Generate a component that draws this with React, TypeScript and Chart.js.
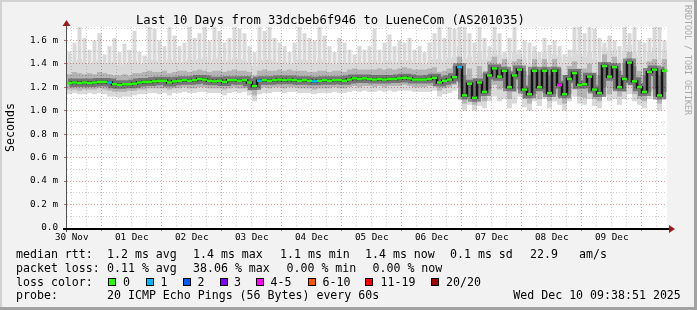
import React, { useEffect, useRef } from "react";
import { Chart, registerables } from "chart.js";

Chart.register(...registerables);

const TITLE = "Last 10 Days from 33dcbeb6f946 to LueneCom (AS201035)";
const Y_TITLE = "Seconds";
const WATERMARK = "RRDTOOL / TOBI OETIKER";

// x axis in hours after 30 Nov 00:00
const X_START = 10.1;
const X_END = 250.1;
const SAMPLE_HOURS = 2;

const DAY_LABELS = ["30 Nov", "01 Dec", "02 Dec", "03 Dec", "04 Dec", "05 Dec", "06 Dec", "07 Dec", "08 Dec", "09 Dec"];
const X_TICK_HOURS = [12, 18, 24, 30, 36, 42, 48, 54, 60, 66, 72, 78, 84, 90, 96, 102, 108, 114, 120, 126, 132, 138, 144, 150, 156, 162, 168, 174, 180, 186, 192, 198, 204, 210, 216, 222, 228, 234, 240, 246];
const Y_TICKS = [0, 0.1, 0.2, 0.3, 0.4, 0.5, 0.6, 0.7, 0.8, 0.9, 1.0, 1.1, 1.2, 1.3, 1.4, 1.5, 1.6, 1.7];
const Y_TICK_LABELS = ["0.0", "", "0.2 m", "", "0.4 m", "", "0.6 m", "", "0.8 m", "", "1.0 m", "", "1.2 m", "", "1.4 m", "", "1.6 m", ""];
const Y_MAX = 1.713;

// median rtt (ms), one value per 2 h
const MEDIAN = [
  1.235, 1.24, 1.235, 1.24, 1.235, 1.24, 1.245, 1.245, 1.24, 1.225,
  1.22, 1.225, 1.225, 1.23, 1.24, 1.245, 1.245, 1.25, 1.255, 1.255,
  1.24, 1.25, 1.255, 1.26, 1.255, 1.26, 1.27, 1.265, 1.255, 1.25,
  1.255, 1.245, 1.26, 1.26, 1.255, 1.26, 1.24, 1.21, 1.255, 1.26,
  1.255, 1.26, 1.265, 1.26, 1.265, 1.26, 1.255, 1.26, 1.255, 1.25,
  1.255, 1.26, 1.255, 1.26, 1.26, 1.255, 1.265, 1.275, 1.27, 1.275,
  1.27, 1.265, 1.27, 1.265, 1.27, 1.27, 1.275, 1.28, 1.275, 1.265,
  1.265, 1.265, 1.27, 1.28, 1.24, 1.255, 1.265, 1.285, 1.37, 1.13,
  1.23, 1.11, 1.24, 1.16, 1.30, 1.36, 1.29, 1.34, 1.20, 1.30,
  1.35, 1.18, 1.14, 1.34, 1.20, 1.34, 1.15, 1.34, 1.22, 1.14,
  1.27, 1.32, 1.22, 1.225, 1.29, 1.18, 1.15, 1.38, 1.29, 1.37,
  1.20, 1.27, 1.41, 1.25, 1.20, 1.16, 1.33, 1.35, 1.13, 1.34,
];

// lost pings out of 20 per sample
const LOSS = [
  0, 0, 0, 0, 0, 0, 0, 0, 1, 0,
  0, 0, 0, 0, 0, 0, 0, 0, 0, 0,
  0, 0, 0, 0, 0, 0, 0, 0, 0, 0,
  0, 0, 0, 0, 0, 0, 0, 0, 1, 0,
  0, 0, 0, 0, 0, 0, 0, 0, 0, 1,
  0, 0, 0, 0, 0, 0, 0, 0, 0, 0,
  0, 0, 0, 0, 0, 0, 0, 0, 0, 0,
  0, 0, 0, 0, 0, 0, 0, 0, 1, 0,
  0, 0, 0, 0, 0, 0, 0, 0, 0, 0,
  0, 0, 0, 0, 0, 0, 0, 0, 4, 0,
  0, 0, 0, 0, 0, 0, 0, 0, 0, 0,
  0, 0, 0, 0, 0, 0, 0, 0, 0, 0,
];

// smoke: slowest ping
const SMOKE_MAX = [
  1.50, 1.58, 1.72, 1.62, 1.52, 1.60, 1.66, 1.48, 1.55, 1.62,
  1.50, 1.57, 1.52, 1.68, 1.50, 1.47, 1.72, 1.70, 1.60, 1.55,
  1.72, 1.64, 1.55, 1.58, 1.72, 1.62, 1.66, 1.72, 1.60, 1.72,
  1.68, 1.58, 1.62, 1.72, 1.70, 1.66, 1.55, 1.50, 1.72, 1.68,
  1.72, 1.62, 1.58, 1.55, 1.50, 1.58, 1.72, 1.66, 1.62, 1.60,
  1.72, 1.64, 1.55, 1.50, 1.62, 1.58, 1.52, 1.48, 1.55, 1.52,
  1.55, 1.70, 1.52, 1.58, 1.65, 1.55, 1.60, 1.58, 1.62, 1.52,
  1.55, 1.50, 1.58, 1.66, 1.72, 1.62, 1.72, 1.70, 1.72, 1.72,
  1.66, 1.58, 1.72, 1.62, 1.55, 1.72, 1.66, 1.50, 1.62, 1.72,
  1.52, 1.60, 1.58, 1.55, 1.50, 1.62, 1.56, 1.60, 1.55, 1.48,
  1.52, 1.72, 1.72, 1.66, 1.72, 1.70, 1.62, 1.58, 1.64, 1.60,
  1.55, 1.72, 1.66, 1.72, 1.60, 1.58, 1.62, 1.72, 1.72, 1.60,
];

// smoke: upper edge of the dense light band
const SMOKE_P90 = [
  1.40, 1.42, 1.44, 1.41, 1.40, 1.42, 1.43, 1.40, 1.41, 1.42,
  1.39, 1.40, 1.41, 1.43, 1.40, 1.40, 1.44, 1.43, 1.42, 1.41,
  1.44, 1.42, 1.41, 1.42, 1.44, 1.43, 1.44, 1.45, 1.42, 1.44,
  1.46, 1.42, 1.43, 1.45, 1.44, 1.43, 1.41, 1.38, 1.44, 1.43,
  1.44, 1.42, 1.41, 1.42, 1.40, 1.41, 1.44, 1.43, 1.42, 1.41,
  1.44, 1.42, 1.41, 1.40, 1.42, 1.41, 1.41, 1.40, 1.41, 1.41,
  1.41, 1.43, 1.41, 1.42, 1.43, 1.41, 1.42, 1.42, 1.43, 1.41,
  1.41, 1.40, 1.42, 1.44, 1.44, 1.42, 1.45, 1.46, 1.55, 1.44,
  1.46, 1.42, 1.50, 1.44, 1.46, 1.52, 1.48, 1.45, 1.44, 1.50,
  1.48, 1.44, 1.40, 1.50, 1.44, 1.50, 1.42, 1.48, 1.46, 1.40,
  1.46, 1.52, 1.48, 1.46, 1.50, 1.44, 1.42, 1.54, 1.50, 1.52,
  1.44, 1.50, 1.56, 1.50, 1.46, 1.42, 1.50, 1.54, 1.44, 1.52,
];

// smoke: middle band
const SMOKE_HIGH = [
  1.31, 1.33, 1.32, 1.31, 1.32, 1.31, 1.33, 1.32, 1.31, 1.30,
  1.30, 1.31, 1.30, 1.32, 1.32, 1.33, 1.34, 1.33, 1.33, 1.34,
  1.32, 1.33, 1.34, 1.34, 1.33, 1.34, 1.35, 1.34, 1.33, 1.34,
  1.34, 1.33, 1.34, 1.35, 1.34, 1.34, 1.33, 1.30, 1.34, 1.35,
  1.34, 1.34, 1.35, 1.34, 1.35, 1.34, 1.34, 1.34, 1.33, 1.33,
  1.34, 1.34, 1.33, 1.34, 1.34, 1.33, 1.35, 1.36, 1.35, 1.35,
  1.35, 1.35, 1.36, 1.35, 1.36, 1.35, 1.36, 1.37, 1.36, 1.35,
  1.35, 1.35, 1.36, 1.37, 1.33, 1.34, 1.36, 1.38, 1.46, 1.30,
  1.36, 1.28, 1.38, 1.32, 1.42, 1.46, 1.40, 1.44, 1.34, 1.42,
  1.44, 1.34, 1.30, 1.44, 1.34, 1.44, 1.30, 1.44, 1.36, 1.30,
  1.38, 1.42, 1.36, 1.36, 1.40, 1.32, 1.30, 1.48, 1.40, 1.46,
  1.34, 1.40, 1.50, 1.38, 1.34, 1.30, 1.42, 1.44, 1.30, 1.44,
];

const SMOKE_LOW = [
  1.18, 1.18, 1.17, 1.18, 1.18, 1.18, 1.19, 1.18, 1.17, 1.16,
  1.16, 1.16, 1.17, 1.17, 1.18, 1.18, 1.19, 1.19, 1.19, 1.19,
  1.18, 1.19, 1.19, 1.20, 1.19, 1.19, 1.20, 1.20, 1.19, 1.19,
  1.19, 1.18, 1.19, 1.20, 1.19, 1.19, 1.17, 1.13, 1.19, 1.20,
  1.19, 1.20, 1.20, 1.19, 1.20, 1.20, 1.19, 1.19, 1.19, 1.18,
  1.19, 1.19, 1.19, 1.20, 1.19, 1.19, 1.20, 1.21, 1.20, 1.21,
  1.21, 1.20, 1.21, 1.20, 1.21, 1.21, 1.21, 1.22, 1.21, 1.20,
  1.20, 1.20, 1.21, 1.21, 1.17, 1.19, 1.20, 1.22, 1.24, 1.06,
  1.12, 1.05, 1.12, 1.08, 1.18, 1.22, 1.18, 1.20, 1.10, 1.16,
  1.18, 1.10, 1.06, 1.14, 1.10, 1.15, 1.08, 1.14, 1.12, 1.06,
  1.14, 1.18, 1.12, 1.11, 1.16, 1.10, 1.08, 1.20, 1.14, 1.18,
  1.12, 1.16, 1.22, 1.14, 1.10, 1.08, 1.16, 1.18, 1.06, 1.16,
];

// smoke: fastest ping
const SMOKE_MIN = [
  1.14, 1.15, 1.14, 1.14, 1.15, 1.14, 1.15, 1.14, 1.12, 1.12,
  1.11, 1.12, 1.12, 1.13, 1.14, 1.14, 1.15, 1.15, 1.14, 1.15,
  1.13, 1.15, 1.15, 1.16, 1.15, 1.15, 1.16, 1.16, 1.15, 1.15,
  1.15, 1.13, 1.15, 1.16, 1.15, 1.16, 1.13, 1.08, 1.14, 1.15,
  1.15, 1.16, 1.16, 1.15, 1.16, 1.16, 1.15, 1.15, 1.15, 1.14,
  1.15, 1.15, 1.15, 1.16, 1.15, 1.15, 1.16, 1.17, 1.16, 1.17,
  1.16, 1.16, 1.17, 1.16, 1.17, 1.16, 1.17, 1.17, 1.17, 1.16,
  1.16, 1.16, 1.16, 1.17, 1.12, 1.14, 1.15, 1.17, 1.20, 1.00,
  1.05, 1.00, 1.04, 1.02, 1.08, 1.12, 1.08, 1.10, 1.02, 1.06,
  1.12, 1.03, 1.00, 1.08, 1.04, 1.10, 1.02, 1.08, 1.05, 1.00,
  1.08, 1.12, 1.06, 1.05, 1.10, 1.04, 1.02, 1.12, 1.08, 1.10,
  1.05, 1.10, 1.14, 1.08, 1.05, 1.02, 1.10, 1.12, 1.00, 1.10,
];

const LOSS_LEGEND = [
  { max: 0, label: "0", color: "#26ff00" },
  { max: 1, label: "1", color: "#00b8ff" },
  { max: 2, label: "2", color: "#0059ff" },
  { max: 3, label: "3", color: "#7e00ff" },
  { max: 5, label: "4-5", color: "#ff00ff" },
  { max: 10, label: "6-10", color: "#ff5500" },
  { max: 19, label: "11-19", color: "#ff0000" },
  { max: 20, label: "20/20", color: "#a10000" },
];

const RTT_STATS = ["1.2 ms avg", "1.4 ms max", "1.1 ms min", "1.4 ms now", "0.1 ms sd", "22.9", "am/s"];
const LOSS_STATS = ["0.11 % avg", "38.06 % max", "0.00 % min", "0.00 % now"];
const PROBE_TEXT = "20 ICMP Echo Pings (56 Bytes) every 60s";
const DATE_TEXT = "Wed Dec 10 09:38:51 2025";

// layout (px)
const RTT_X = [107, 193, 280, 365, 450, 530, 579];
const LOSS_X = [107, 193, 286.5, 372.5];
const SWATCH_X = [108, 145.5, 182.5, 219.5, 256, 307.5, 365, 431];
const SWATCH_LABEL_X = [123, 160.5, 197.5, 234, 270.5, 322.5, 380.5, 446];
const ROW_TOP = [246.7, 260.6, 274.5, 288.4];

const BG = "#f2f2f2";
const RED_GRID = "#e3a0a0";
const GRAY_GRID = "#cfcfcf";
const MONO = '"DejaVu Sans Mono", monospace';

function lossColor(n: number): string {
  for (const l of LOSS_LEGEND) if (n <= l.max) return l.color;
  return LOSS_LEGEND[LOSS_LEGEND.length - 1].color;
}

const TIMES = MEDIAN.map((_, i) => X_START + SAMPLE_HOURS * (i + 0.5));
const points = (arr: number[]) => arr.map((v, i) => ({ x: TIMES[i], y: v }));
const band = (lo: number[], hi: number[]) => lo.map((v, i) => ({ x: TIMES[i], y: [v, hi[i]] }));

const framePlugin = {
  id: "rrdFrame",
  beforeDraw(chart: any) {
    const { ctx, chartArea: a } = chart;
    ctx.save();
    ctx.fillStyle = "#ffffff";
    ctx.fillRect(a.left, a.top, a.right - a.left, a.bottom - a.top);
    ctx.restore();
  },
  afterDraw(chart: any) {
    const { ctx, chartArea: a } = chart;
    ctx.save();
    ctx.fillStyle = "#505050";
    ctx.fillRect(a.left - 1, a.top - 3, 1, a.bottom - a.top + 7);
    ctx.fillStyle = "#000000";
    ctx.fillRect(a.left - 4, a.bottom, a.right - a.left + 6, 2);
    ctx.fillStyle = "#9a1c1c";
    ctx.beginPath();
    ctx.moveTo(a.right + 2, a.bottom - 3);
    ctx.lineTo(a.right + 2, a.bottom + 5);
    ctx.lineTo(a.right + 8, a.bottom + 1);
    ctx.closePath();
    ctx.fill();
    ctx.beginPath();
    ctx.moveTo(a.left - 4.5, a.top - 1);
    ctx.lineTo(a.left + 3.5, a.top - 1);
    ctx.lineTo(a.left - 0.5, a.top - 7);
    ctx.closePath();
    ctx.fill();
    ctx.restore();
  },
};

export default function App() {
  const ref = useRef<HTMLCanvasElement>(null);

  useEffect(() => {
    const prevMargin = document.body.style.margin;
    document.body.style.margin = "0";
    const canvas = ref.current;
    if (!canvas) return;
    const barCommon = {
      type: "bar" as const,
      grouped: false,
      barPercentage: 1,
      categoryPercentage: 1,
      borderWidth: 0,
      borderSkipped: false,
      inflateAmount: 0,
    };
    const chart = new Chart(canvas, {
      data: {
        datasets: [
          {
            type: "line",
            label: "median",
            data: points(MEDIAN),
            showLine: false,
            pointStyle: "line",
            pointRadius: 2.5,
            pointHoverRadius: 2.5,
            pointBorderWidth: 2.5,
            pointBorderColor: LOSS.map(lossColor),
            pointBackgroundColor: LOSS.map(lossColor),
            order: 0,
          } as any,
          {
            type: "line",
            label: "median step",
            data: points(MEDIAN),
            stepped: "middle",
            borderColor: "#141414",
            borderWidth: 2.5,
            pointRadius: 0,
            order: 1,
          } as any,
          {
            type: "line",
            label: "median halo",
            data: points(MEDIAN),
            stepped: "middle",
            borderColor: "rgba(30,30,30,0.42)",
            borderWidth: 8,
            pointRadius: 0,
            order: 2,
          } as any,
          { ...barCommon, label: "mid", data: band(SMOKE_LOW, SMOKE_HIGH), backgroundColor: "rgba(0,0,0,0.17)", order: 3 } as any,
          { ...barCommon, label: "light", data: band(SMOKE_MIN, SMOKE_P90), backgroundColor: "rgba(0,0,0,0.15)", order: 4 } as any,
          { ...barCommon, label: "spikes", data: band(SMOKE_P90, SMOKE_MAX), backgroundColor: "rgba(0,0,0,0.15)", barPercentage: 0.8, order: 5 } as any,
        ],
      },
      options: {
        responsive: false,
        animation: false,
        devicePixelRatio: 1,
        events: [],
        layout: { padding: { left: 0, top: 27, right: 30, bottom: 0 } },
        plugins: { legend: { display: false }, tooltip: { enabled: false }, title: { display: false } },
        scales: {
          x: {
            type: "linear",
            min: X_START,
            max: X_END,
            offset: false,
            afterFit: (s: any) => { s.height = 82; },
            afterBuildTicks: (s: any) => { s.ticks = X_TICK_HOURS.map((v) => ({ value: v })); },
            ticks: {
              autoSkip: false,
              maxRotation: 0,
              minRotation: 0,
              padding: 1,
              color: "#000000",
              font: { family: MONO, size: 9.3 },
              callback: (v: any) => (Number(v) % 24 === 12 ? DAY_LABELS[(Number(v) - 12) / 24] : ""),
            },
            grid: {
              offset: false,
              lineWidth: 1,
              tickLength: 3,
              color: (c: any) => (c.tick && c.tick.value % 24 === 0 ? RED_GRID : GRAY_GRID),
              tickColor: (c: any) => (c.tick && c.tick.value % 24 === 0 ? "#c06060" : "rgba(0,0,0,0)"),
            },
            border: { display: false, dash: [1, 2] },
          },
          y: {
            type: "linear",
            min: 0,
            max: Y_MAX,
            afterFit: (s: any) => { s.width = 67; },
            afterBuildTicks: (s: any) => { s.ticks = Y_TICKS.map((v) => ({ value: v })); },
            ticks: {
              autoSkip: false,
              padding: 6,
              color: "#000000",
              font: { family: MONO, size: 9.3 },
              callback: (_v: any, i: number) => Y_TICK_LABELS[i],
            },
            grid: {
              lineWidth: 1,
              tickLength: 3,
              color: (c: any) => (c.index % 2 === 0 ? RED_GRID : GRAY_GRID),
              tickColor: (c: any) => (c.index % 2 === 0 ? "#c06060" : "rgba(0,0,0,0)"),
            },
            border: { display: false, dash: [1, 2] },
          },
        },
      } as any,
      plugins: [framePlugin],
    } as any);
    return () => {
      chart.destroy();
      document.body.style.margin = prevMargin;
    };
  }, []);

  const text = (left: number, top: number, s: string, key: string) => (
    <div key={key} style={{ position: "absolute", left, top, whiteSpace: "pre", fontFamily: MONO, fontSize: "11.6px", lineHeight: "14px", color: "#000" }}>{s}</div>
  );

  return (
    <div style={{ position: "absolute", left: 0, top: 0, width: 697, height: 310, background: BG, overflow: "hidden" }}>
      <canvas ref={ref} width={697} height={310} style={{ position: "absolute", left: 0, top: 0, width: 697, height: 310 }} />
      <div style={{ position: "absolute", left: 0, top: 0, width: 697, height: 2, background: "#d2d2d2" }} />
      <div style={{ position: "absolute", left: 0, top: 0, width: 2, height: 310, background: "#d2d2d2" }} />
      <div style={{ position: "absolute", left: 0, top: 307, width: 697, height: 3, background: "#a2a2a2" }} />
      <div style={{ position: "absolute", left: 694, top: 0, width: 3, height: 310, background: "#a2a2a2" }} />
      <div style={{ position: "absolute", left: 136, top: 12.8, whiteSpace: "pre", fontFamily: MONO, fontSize: "12.2px", lineHeight: "14px", color: "#000" }}>{TITLE}</div>
      <div style={{ position: "absolute", left: 4, top: 103, writingMode: "vertical-rl", transform: "rotate(180deg)", fontFamily: MONO, fontSize: "11.6px", lineHeight: "13px", color: "#000" }}>{Y_TITLE}</div>
      <div style={{ position: "absolute", left: 684, top: 5, writingMode: "vertical-rl", fontFamily: MONO, fontSize: "8.3px", lineHeight: "8px", color: "#a8a8a8", whiteSpace: "pre" }}>{WATERMARK}</div>
      {text(16, ROW_TOP[0], "median rtt:", "r0")}
      {RTT_STATS.map((s, i) => text(RTT_X[i], ROW_TOP[0], s, "rs" + i))}
      {text(16, ROW_TOP[1], "packet loss:", "l0")}
      {LOSS_STATS.map((s, i) => text(LOSS_X[i], ROW_TOP[1], s, "ls" + i))}
      {text(16, ROW_TOP[2], "loss color:", "c0")}
      {LOSS_LEGEND.map((l, i) => (
        <div key={"sw" + i} style={{ position: "absolute", left: SWATCH_X[i], top: 278, width: 8, height: 8, boxSizing: "border-box", border: "1px solid #000", background: l.color }} />
      ))}
      {LOSS_LEGEND.map((l, i) => text(SWATCH_LABEL_X[i], ROW_TOP[2], l.label, "sl" + i))}
      {text(16, ROW_TOP[3], "probe:", "p0")}
      {text(107, ROW_TOP[3], PROBE_TEXT, "p1")}
      {text(513.3, ROW_TOP[3], DATE_TEXT, "p2")}
    </div>
  );
}
